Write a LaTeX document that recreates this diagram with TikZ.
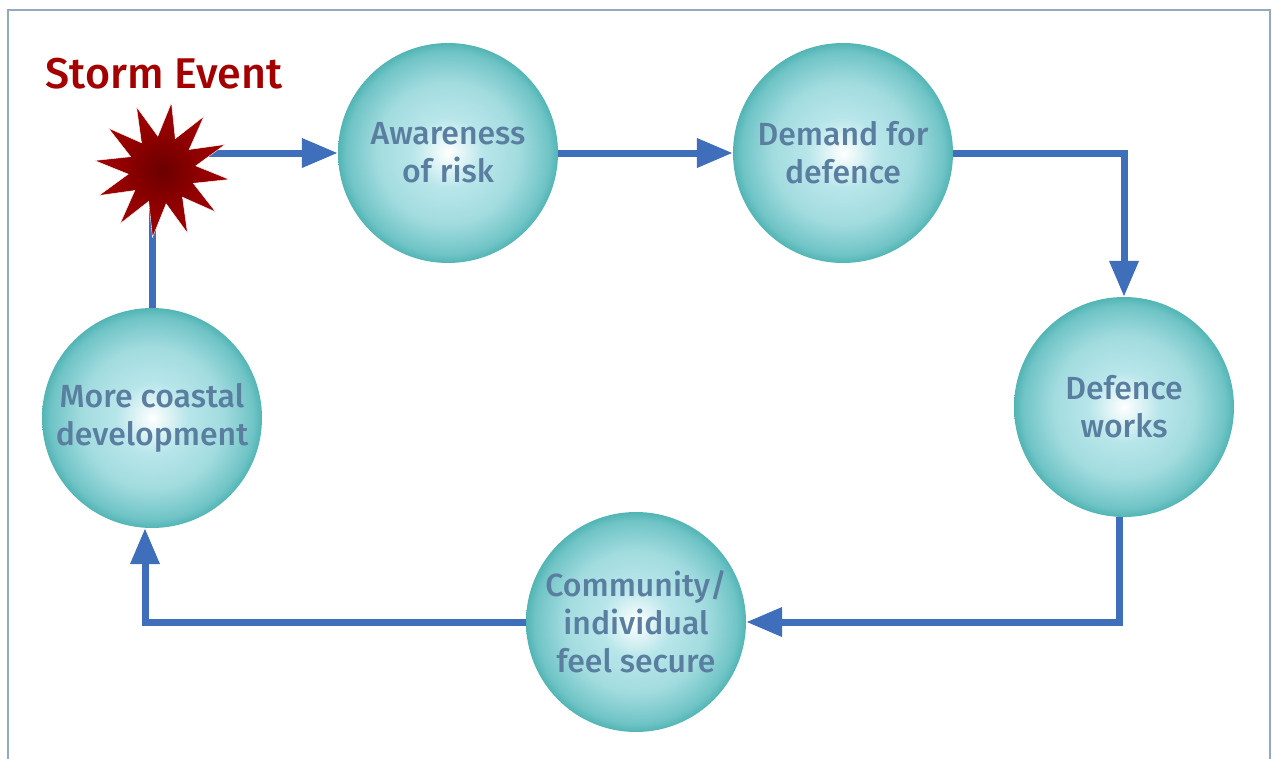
\documentclass[tikz,border=0pt]{standalone}
\usepackage{fontspec}
\setmainfont{Fira Sans}[UprightFont={* Medium}]
\usepackage{tikz}
\usetikzlibrary{shapes.geometric}
\usetikzlibrary{arrows.meta}
\definecolor{flowblue}{RGB}{63,111,186}
\definecolor{ballslate}{RGB}{90,126,160}
\definecolor{framegrey}{RGB}{146,171,194}
\definecolor{stormred}{RGB}{165,0,0}
\definecolor{tealedge}{RGB}{22,150,144}
\definecolor{tealmid}{RGB}{112,196,198}
\definecolor{tealpale}{RGB}{184,230,234}
\pgfdeclareradialshading{ballshade}{\pgfpoint{0bp}{0bp}}{color(0bp)=(white); color(8bp)=(tealpale); color(16bp)=(tealpale!70!tealmid); color(23bp)=(tealmid); color(29bp)=(tealedge); color(50bp)=(tealedge)}
\pgfdeclareradialshading{stormshade}{\pgfpoint{0bp}{0bp}}{color(0bp)=(stormred!65!black); color(16bp)=(stormred!90!black); color(28bp)=(stormred); color(50bp)=(stormred)}
\tikzset{
  ball/.style={circle,minimum size=220pt,inner sep=0pt,shading=ballshade,
    align=center,text=ballslate,font=\fontsize{32}{38}\selectfont},
  flow/.style={draw=flowblue,line width=7pt,-{Triangle[length=36pt,width=28pt]}}
}

\begin{document}
\begin{tikzpicture}[x=1pt,y=-1pt]
      \useasboundingbox (0,0) rectangle (1272,758);
      % the frame, open at the bottom
      \draw[framegrey,line width=2pt] (8,770) -- (8,10) -- (1270,10) -- (1270,770);
      %% the cycle
      \foreach \n/\x/\y/\t in {aware/448/153/{Awareness\\of risk},
                               demand/843/153/{Demand for\\defence},
                               works/1124/407/{Defence\\works},
                               secure/636/622/{Community/\\individual\\feel secure},
                               coastal/152/418/{More coastal\\development}}
      {
        \node[ball] (\n) at (\x,\y) {\t};
      }
      % connectors
      \draw[flow] (coastal) |- (aware);
      \draw[flow] (aware) -- (demand);
      \draw[flow] (demand) -| (works);
      \draw[flow] ([xshift=-5pt]works.south) |- (secure);
      \draw[flow] (secure) -| ([xshift=-7pt]coastal.south);
      % the storm
      \node[star,star points=12,star point ratio=2.0,minimum size=136pt,inner sep=0pt,
            shading=stormshade,draw=white,thin,shape border rotate=-8] (storm) at (162,170) {};
      \node[anchor=base west,text=stormred,font=\fontsize{43}{50}\selectfont] (title) at (42,88) {Storm Event};
    \end{tikzpicture}
\end{document}
